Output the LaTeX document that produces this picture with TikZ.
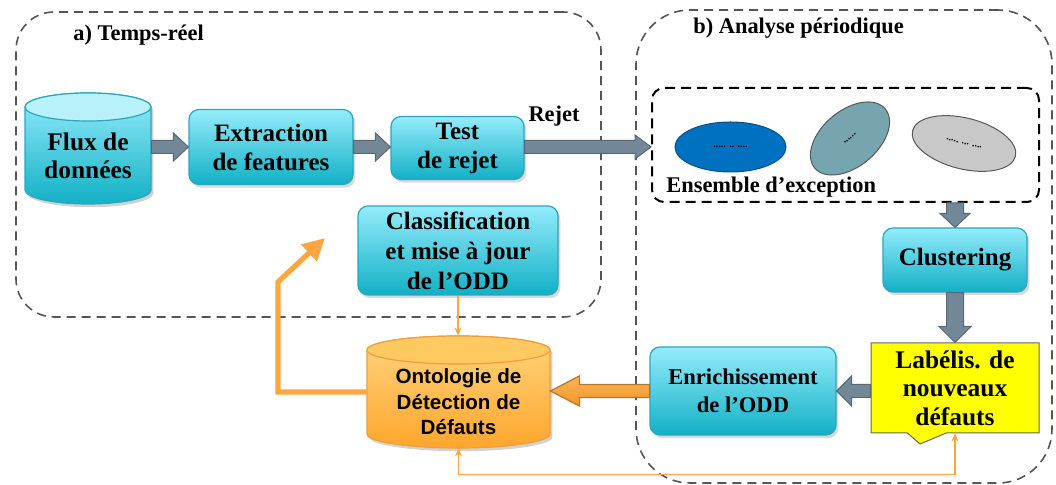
\documentclass[tikz,border=0pt]{standalone}
\usepackage{fontspec}
\setmainfont{Liberation Serif}
\newfontfamily\odfont{Liberation Sans}
\usetikzlibrary{calc,shapes.geometric,shapes.callouts,shadows,arrows.meta}
\definecolor{cyT}{HTML}{94ECFB}
\definecolor{cyB}{HTML}{12B0C6}
\definecolor{cyD}{HTML}{2AA6BE}
\definecolor{cyTop}{HTML}{B9F1FB}
\definecolor{grA}{HTML}{738796}
\definecolor{grD}{HTML}{566878}
\definecolor{orT}{HTML}{FFD47E}
\definecolor{orB}{HTML}{FFA62C}
\definecolor{orD}{HTML}{EE9E3A}
\definecolor{orTop}{HTML}{FFC962}
\definecolor{orL}{HTML}{FFA640}
\definecolor{orAT}{HTML}{FBB455}
\definecolor{orAB}{HTML}{F0962A}
\definecolor{orBr}{HTML}{B8772E}
\definecolor{zoneC}{HTML}{555555}
\definecolor{blueE}{HTML}{0070C0}
\definecolor{tealE}{HTML}{76A5AF}
\definecolor{grayE}{HTML}{C8C8C8}
\definecolor{yelF}{HTML}{FFFF00}
\newcommand\blockarr[6]{%
  \coordinate (bahb) at ($(#2)!#5!(#1)$);
  \filldraw[#6] ($(#1)!#3!90:(#2)$) -- ($(bahb)!#3!-90:(#1)$) -- ($(bahb)!#4!-90:(#1)$) -- (#2) -- ($(bahb)!#4!90:(#1)$) -- ($(bahb)!#3!90:(#1)$) -- ($(#1)!#3!-90:(#2)$) -- cycle;}
\begin{document}
\begin{tikzpicture}[x=0.5pt,y=0.5pt,
  zone/.style={draw=zoneC, dash pattern=on 4.5pt off 3pt, line width=0.8pt, inner sep=0pt},
  ensbox/.style={draw=black, dash pattern=on 5pt off 3pt, line width=1pt, rounded corners=6pt, inner sep=0pt},
  title/.style={font=\bfseries\fontsize{11.2}{13}\selectfont, inner sep=0pt},
  cybox/.style={rectangle, rounded corners=5pt, draw=cyD, line width=0.6pt, top color=cyT, bottom color=cyB,
     drop shadow={opacity=0.3,shadow xshift=1.2pt,shadow yshift=-1.6pt}, align=center,
     font=\bfseries\fontsize{12.5}{14.5}\selectfont, inner sep=1pt},
  txt/.style={align=center, font=\bfseries\fontsize{12.7}{14}\selectfont, inner sep=0pt},
  odtxt/.style={align=center, font=\odfont\bfseries\fontsize{10.3}{12.8}\selectfont, inner sep=0pt},
  grarrow/.style={fill=grA, draw=grD, line width=0.5pt},
  orarrow/.style={top color=orAT, bottom color=orAB, draw=orBr, line width=0.6pt},
  ell/.style={ellipse, inner sep=0pt, line width=0.5pt, font=\bfseries\fontsize{5}{5}\selectfont},
  thinor/.style={draw=orL, line width=0.6pt},
  tipS/.tip={Stealth[length=4pt,width=3.5pt]}
]
\useasboundingbox (0,0) rectangle (1056,-485);

% zones
\node[zone, rounded corners=19pt, minimum width=292.5pt, minimum height=152.5pt] (zoneA) at (308.5,-164.5) {};
\node[zone, rounded corners=27pt, minimum width=208pt, minimum height=236.5pt] (zoneB) at (844,-246.5) {};
\node[title, anchor=west] (titleA) at (73,-35) {a) Temps-réel};
\node[title, anchor=west] (titleB) at (693,-28) {b) Analyse périodique};

% Flux cylinder
\path[fill=black, opacity=0.18, xshift=1.2pt, yshift=-1.6pt] (25,-107) -- (25,-190) arc[start angle=180,end angle=360,x radius=31.5pt,y radius=7pt] -- (151,-107) arc[start angle=0,end angle=180,x radius=31.5pt,y radius=7pt] -- cycle;
\path[draw=cyD, line width=0.6pt, top color=cyT, bottom color=cyB] (25,-107) -- (25,-190) arc[start angle=180,end angle=360,x radius=31.5pt,y radius=7pt] -- (151,-107) arc[start angle=0,end angle=180,x radius=31.5pt,y radius=7pt] -- cycle;
\path[draw=cyD, line width=0.6pt, fill=cyTop] (88,-107) ellipse[x radius=31.5pt, y radius=7pt];
\node[minimum width=63pt, minimum height=55.5pt, inner sep=0pt] (flux) at (88,-148.5) {};
\node[txt] (fluxtxt) at (88,-156) {Flux de\\données};

% ODD cylinder
\path[fill=black, opacity=0.18, xshift=1.2pt, yshift=-1.6pt] (367,-350) -- (367,-434) arc[start angle=180,end angle=360,x radius=45.75pt,y radius=7pt] -- (550,-350) arc[start angle=0,end angle=180,x radius=45.75pt,y radius=7pt] -- cycle;
\path[draw=orD, line width=0.6pt, top color=orT, bottom color=orB] (367,-350) -- (367,-434) arc[start angle=180,end angle=360,x radius=45.75pt,y radius=7pt] -- (550,-350) arc[start angle=0,end angle=180,x radius=45.75pt,y radius=7pt] -- cycle;
\path[draw=orD, line width=0.6pt, fill=orTop] (458.5,-350) ellipse[x radius=45.75pt, y radius=7pt];
\node[minimum width=91.5pt, minimum height=56pt, inner sep=0pt] (odd) at (458.5,-392) {};
\node[odtxt] (oddtxt) at (458.5,-402) {Ontologie de\\Détection de\\Défauts};

% boxes
\node[cybox, minimum width=82pt, minimum height=37.5pt] (ext) at (271,-147) {Extraction\\de features};
\node[cybox, minimum width=66.5pt, minimum height=31.5pt] (test) at (457.5,-148) {Test\\de rejet};
\node[cybox, minimum width=100pt, minimum height=44.5pt, font=\bfseries\fontsize{12.5}{15}\selectfont] (class) at (458,-250.5) {Classification\\et mise à jour\\de l’ODD};
\node[cybox, minimum width=72pt, minimum height=32pt] (clus) at (955,-260) {Clustering};
\node[cybox, minimum width=93pt, minimum height=44pt, font=\bfseries\fontsize{11.3}{14}\selectfont] (enr) at (743,-391) {Enrichissement\\de l’ODD};
\node[rectangle callout, callout absolute pointer={(920,-444)}, callout pointer width=19.5pt,
      fill=yelF, draw=gray!80!black, line width=0.5pt, minimum width=84pt, minimum height=45pt,
      align=center, inner sep=1pt, font=\bfseries\fontsize{12.7}{14.3}\selectfont] (yel) at (955,-388) {Labélis. de\\nouveaux\\défauts};

% ensemble d'exception
\node[ensbox, minimum width=193.5pt, minimum height=57pt] (ens) at (845.5,-145) {};
\node[ell, fill=blueE, draw=blueE!70!black, minimum width=55.5pt, minimum height=25pt] (e1) at (730.5,-147) {..... .. ....};
\node[ell, fill=tealE, draw=gray!70!black, minimum width=46pt, minimum height=28pt, rotate=40] (e2) at (850,-138.5) {......};
\node[ell, fill=grayE, draw=gray!70!black, minimum width=53pt, minimum height=25.5pt, rotate=-14] (e3) at (964,-143.5) {..... ... ....};
\node[title, anchor=west] (enslbl) at (666,-187) {Ensemble d’exception};

% label
\node[title] (rejlbl) at (554,-116) {Rejet};

% gray block arrows
\coordinate (a1s) at (flux.east |- ext.west);
\blockarr{a1s}{ext.west}{3.25pt}{7pt}{7.5pt}{grarrow}
\coordinate (a2e) at (ext.east -| test.west);
\blockarr{ext.east}{a2e}{3.25pt}{7pt}{7.5pt}{grarrow}
\coordinate (rejS) at (test.east |- ext.east);
\coordinate (rejEnd) at (rejS -| ens.west);
\blockarr{rejS}{rejEnd}{3.25pt}{6pt}{8pt}{grarrow}
\coordinate (c1s) at (ens.south -| clus.north);
\blockarr{c1s}{clus.north}{4.25pt}{7.5pt}{7pt}{grarrow}
\blockarr{clus.south}{yel.north}{4.25pt}{8pt}{8pt}{grarrow}
\coordinate (y1s) at (enr.east -| yel.west);
\blockarr{y1s}{enr.east}{3.25pt}{7.5pt}{7.5pt}{grarrow}
\coordinate (o1e) at (enr.west -| odd.east);
\blockarr{enr.west}{o1e}{3.25pt}{7.5pt}{14.5pt}{orarrow}

% orange connectors
\coordinate (bendA) at (278,-282);
\coordinate (tipA) at (325,-238);
\draw[orL, line width=2.6pt, -{Triangle[length=11pt,width=11pt]}] (odd.west) -| (bendA) -- (tipA);
\draw[thinor, -tipS] (class.south) -- (class.south |- odd.north);
\draw[thinor, tipS-tipS] (odd.south) -- ++(0,-26) -| (yel.south);
\end{tikzpicture}
\end{document}
